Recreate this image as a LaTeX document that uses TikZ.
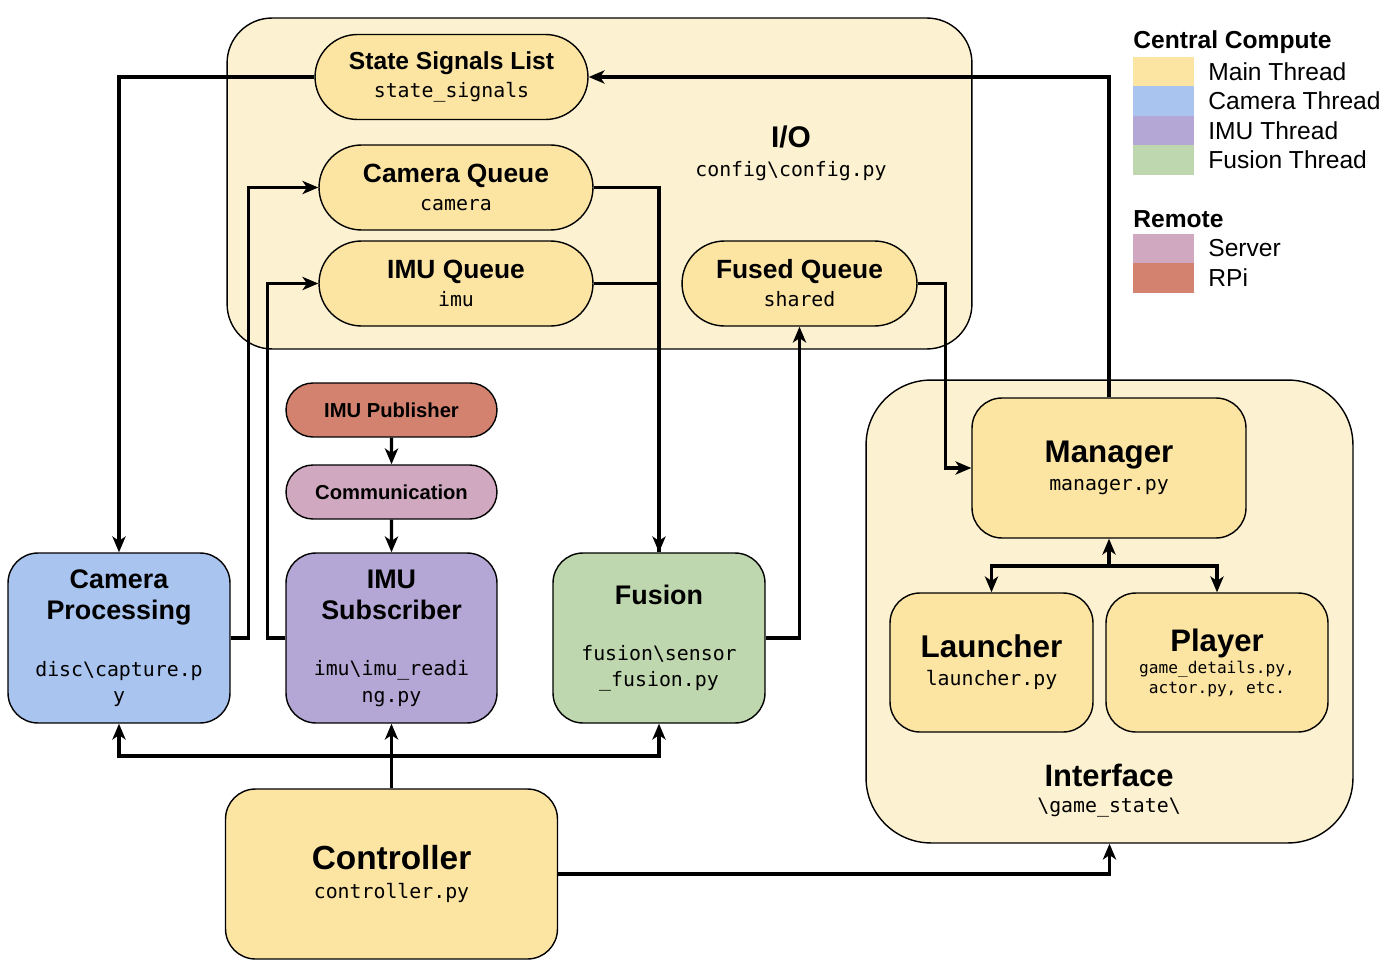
\documentclass[tikz,border=0pt]{standalone}
\usepackage{fontspec}
\setmainfont{Liberation Sans}
\newfontfamily\codefont{DejaVu Sans Mono}
\usetikzlibrary{shapes.misc,arrows.meta}

\definecolor{mainfill}{HTML}{FCE4A3}
\definecolor{iofill}{HTML}{FCF1D0}
\definecolor{camfill}{HTML}{A9C4EF}
\definecolor{imufill}{HTML}{B4A7D6}
\definecolor{fusfill}{HTML}{BFD7AE}
\definecolor{srvfill}{HTML}{D0A8BF}
\definecolor{rpifill}{HTML}{D3826F}

\newcommand{\nodetitle}[1]{\bfseries\fontsize{#1}{#1}\selectfont}
\newcommand{\nodecode}[1]{\codefont\fontsize{#1}{#1}\selectfont}

\begin{document}
\begin{tikzpicture}[x=0.02cm, y=-0.02cm,
    every node/.style={font=\fontsize{11}{15}\selectfont},
    container/.style={draw, line width=0.8pt, fill=iofill, inner sep=0pt},
    queue/.style={rounded rectangle, draw, line width=0.8pt, fill=mainfill, align=center, inner sep=0pt, minimum height=1.7cm},
    box/.style={draw, rounded corners=0.6cm, line width=0.8pt, align=center, inner sep=0pt, minimum height=3.4cm},
    pill/.style={rounded rectangle, draw, line width=0.8pt, align=center, inner sep=0pt, minimum width=4.22cm, minimum height=1.08cm},
    swatch/.style={minimum width=1.22cm, minimum height=0.59cm, inner sep=0pt},
    legend/.style={anchor=west, inner sep=0pt, font=\fontsize{14}{14}\selectfont},
    link/.style={line width=1.8pt, -{Stealth[length=9pt,width=7.5pt,inset=2.5pt]}},
    wire/.style={line width=1.8pt}]
    \useasboundingbox (0,0) rectangle (1392,966);

    % Containers
    \node[container, rounded corners=0.9cm, minimum width=14.9cm, minimum height=6.62cm] (io) at (599.5,183.5) {};
    \node[container, rounded corners=1.3cm, minimum width=9.74cm, minimum height=9.26cm] (interface) at (1109.5,611.5) {};
    \node (iolabel) at (791,137) {\nodetitle{17}I/O};
    \node (iopath) at (791,171) {\nodecode{11.3}config\textbackslash config.py};
    \node (intlabel) at (1109,775) {\nodetitle{17.6}Interface};
    \node (intpath) at (1109,808) {\nodecode{11.3}\textbackslash game\_state\textbackslash};

    % Queues
    \node[queue, minimum width=5.46cm] (state) at (451.5,77) {{\nodetitle{14}State Signals List}\\[1pt]{\nodecode{11.3}state\_signals}};
    \node[queue, minimum width=5.48cm] (camq) at (456,187.5) {{\nodetitle{15}Camera Queue}\\[1pt]{\nodecode{11.3}camera}};
    \node[queue, minimum width=5.48cm] (imuq) at (456,283.5) {{\nodetitle{15}IMU Queue}\\[1pt]{\nodecode{11.3}imu}};
    \node[queue, minimum width=4.7cm] (fusedq) at (799.5,283.5) {{\nodetitle{15}Fused Queue}\\[1pt]{\nodecode{11.3}shared}};

    % Nodes
    \node[pill, fill=rpifill] (pub) at (391.5,410) {\nodetitle{11.5}IMU Publisher};
    \node[pill, fill=srvfill] (comm) at (391.5,492) {\nodetitle{11.5}Communication};
    \node[box, fill=camfill, minimum width=4.44cm] (campro) at (119,638) {{\nodetitle{15.3}Camera}\\[3pt]{\nodetitle{15.3}Processing}\\[17pt]{\nodecode{11.3}disc\textbackslash capture.p}\\{\nodecode{11.3}y}};
    \node[box, fill=imufill, minimum width=4.22cm] (imusub) at (391.5,638) {{\nodetitle{15.3}IMU}\\[3pt]{\nodetitle{15.3}Subscriber}\\[17pt]{\nodecode{11.3}imu\textbackslash imu\_readi}\\{\nodecode{11.3}ng.py}};
    \node[box, fill=fusfill, minimum width=4.24cm] (fusion) at (659,638) {{\nodetitle{15.3}Fusion}\\[17pt]{\nodecode{11.3}fusion\textbackslash sensor}\\{\nodecode{11.3}\_fusion.py}};
    \node[box, fill=mainfill, minimum width=6.64cm] (controller) at (391.5,874) {{\nodetitle{19}Controller}\\[1pt]{\nodecode{11.3}controller.py}};
    \node[box, fill=mainfill, minimum width=5.48cm, minimum height=2.8cm] (manager) at (1109,468) {{\nodetitle{17.8}Manager}\\[1pt]{\nodecode{11.3}manager.py}};
    \node[box, fill=mainfill, minimum width=4.06cm, minimum height=2.78cm] (launcher) at (991.5,662.5) {{\nodetitle{17.9}Launcher}\\[1pt]{\nodecode{11.3}launcher.py}};
    \node[box, fill=mainfill, minimum width=4.44cm, minimum height=2.78cm] (player) at (1217,662.5) {{\nodetitle{17.7}Player}\\[-2pt]{\nodecode{9.2}game\_details.py,}\\[-4pt]{\nodecode{9.2}actor.py, etc.}};

    % Legend
    \node[legend] (centralhead) at (1133,42) {\bfseries Central Compute};
    \node[swatch, fill=mainfill] (swmain) at (1163.5,71.5) {};
    \node[swatch, fill=camfill] (swcam) at (1163.5,101) {};
    \node[swatch, fill=imufill] (swimu) at (1163.5,130.5) {};
    \node[swatch, fill=fusfill] (swfus) at (1163.5,160) {};
    \node[legend] (lgmain) at (1208,71.5) {Main Thread};
    \node[legend] (lgcam) at (1208,101) {Camera Thread};
    \node[legend] (lgimu) at (1208,130.5) {IMU Thread};
    \node[legend] (lgfus) at (1208,160) {Fusion Thread};
    \node[legend] (remotehead) at (1133,219) {\bfseries Remote};
    \node[swatch, fill=srvfill] (swsrv) at (1163.5,248.5) {};
    \node[swatch, fill=rpifill] (swrpi) at (1163.5,278) {};
    \node[legend] (lgsrv) at (1208,248.5) {Server};
    \node[legend] (lgrpi) at (1208,278) {RPi};

    % Arrows
    \coordinate (hub) at (1109,566);
    \coordinate (bus) at (391.5,756);
    \draw[link] (state.west) -| (campro.north);
    \draw[link] (manager.north) |- (state.east);
    \draw[link] (campro.east) -- ++(18,0) |- (camq.west);
    \draw[link] (imusub.west) -- ++(-18,0) |- (imuq.west);
    \draw[link] (camq.east) -| (fusion.north);
    \draw[wire] (imuq.east) -| (fusion.north);
    \draw[link] (fusion.east) -| (fusedq.south);
    \draw[link] (fusedq.east) -- ++(28,0) |- (manager.west);
    \draw[link] (hub) -- (manager.south);
    \draw[link] (hub) -| (launcher.north);
    \draw[link] (hub) -| (player.north);
    \draw[link] (pub) -- (comm);
    \draw[link] (comm) -- (imusub);
    \draw[wire] (controller.north) -- (bus);
    \draw[link] (bus) -- (imusub.south);
    \draw[link] (bus) -| (campro.south);
    \draw[link] (bus) -| (fusion.south);
    \draw[link] (controller.east) -| (interface.south);
\end{tikzpicture}
\end{document}
